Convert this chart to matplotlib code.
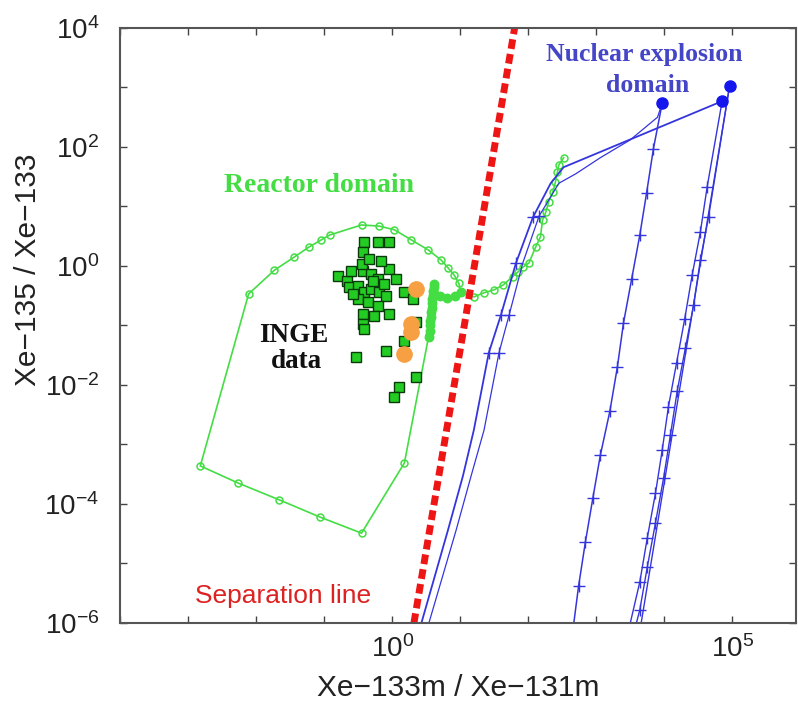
import numpy as np
import matplotlib.pyplot as plt

plt.rcParams['font.family'] = ['Liberation Sans', 'DejaVu Sans']
plt.rcParams['mathtext.fontset'] = 'custom'
plt.rcParams['mathtext.rm'] = 'Liberation Sans'

# every value below is a log10 exponent

# reactor domain outline (green, open circles)
reactor_x = [2.52, 2.45, 2.43, 2.40, 2.36, 2.30, 2.26, 2.21, 2.18, 2.11, 2.01, 1.92, 1.85, 1.77,
             1.63, 1.50, 1.35, 1.20, 1.01, 0.98, 0.91, 0.82, 0.72,
             0.53, 0.28, 0.03, -0.19, -0.45, -0.92, -1.04, -1.22, -1.44, -1.73, -2.11,
             -2.82, -2.26, -1.66, -1.06, -0.45, 0.18, 0.54]
reactor_y = [1.82, 1.70, 1.58, 1.41, 1.24, 1.08, 0.91, 0.77, 0.49, 0.32, 0.05, -0.02, -0.10, -0.18,
             -0.32, -0.40, -0.45, -0.52, -0.44, -0.29, -0.15, -0.03, 0.10,
             0.27, 0.44, 0.61, 0.67, 0.69, 0.52, 0.44, 0.32, 0.15, -0.07, -0.47,
             -3.36, -3.65, -3.93, -4.22, -4.49, -3.31, -1.16]

# dense stack of reactor circles next to the separation line
bar_x = [0.54, 0.55, 0.56, 0.56, 0.57, 0.57, 0.58, 0.58, 0.59, 0.60, 0.60, 0.61, 0.62, 0.70, 0.80, 0.92, 1.01]
bar_y = [-1.20, -1.10, -1.00, -0.92, -0.85, -0.78, -0.70, -0.63, -0.56, -0.49, -0.42, -0.36, -0.31,
         -0.50, -0.53, -0.50, -0.44]

# INGE data (green squares)
inge_x = [-0.41, -0.21, -0.04, -0.43, -0.79, -0.67, -0.60, -0.43, -0.31, -0.21, -0.04, 0.06, 0.18, 0.31,
          -0.63, -0.50, -0.41, -0.31, -0.19, -0.09, -0.50, -0.35, -0.21, -0.04, -0.43, -0.26, -0.43,
          -0.41, 0.35, 0.18, -0.09, -0.53, 0.35, 0.10, 0.03, -0.57, -0.28, -0.12, -0.45, -0.16, -0.34]
inge_y = [0.40, 0.40, 0.40, 0.24, -0.17, -0.25, -0.08, -0.08, -0.13, -0.22, -0.05, -0.22, -0.44, -0.55,
          -0.35, -0.34, -0.44, -0.39, -0.44, -0.50, -0.55, -0.61, -0.67, -0.81, -0.81, -0.84, -0.97,
          -1.06, -0.94, -1.26, -1.43, -1.53, -1.87, -2.03, -2.20, -0.47, -0.25, -0.30, 0.03, 0.08, 0.12]

# orange points
orange_x = [0.35, 0.28, 0.28, 0.18]
orange_y = [-0.39, -0.97, -1.11, -1.48]

# separation line
sep_x = [0.32, 1.80]
sep_y = [-6.0, 4.0]

# nuclear explosion curves (blue)
a1_x = [0.43, 0.82, 1.04, 1.20, 1.42, 1.60, 1.82, 2.07, 2.33, 2.52, 4.85]
a1_y = [-6.0, -4.44, -3.53, -2.76, -1.46, -0.82, 0.05, 0.82, 1.39, 1.66, 2.77]
a2_x = [0.54, 0.94, 1.16, 1.35, 1.57, 1.72, 1.92, 2.16, 2.45, 2.70, 3.06, 3.50, 3.90, 3.97]
a2_y = [-6.0, -4.44, -3.53, -2.76, -1.46, -0.82, 0.05, 0.84, 1.39, 1.55, 1.82, 2.12, 2.50, 2.74]
c_x = [3.97, 3.84, 3.74, 3.64, 3.52, 3.40, 3.31, 3.20, 3.06, 2.95, 2.84, 2.74, 2.67]
c_y = [2.74, 1.97, 1.23, 0.52, -0.22, -0.96, -1.70, -2.44, -3.18, -3.90, -4.64, -5.38, -6.0]
b1_x = [4.85, 4.63, 4.53, 4.41, 4.30, 4.18, 4.06, 3.97, 3.87, 3.75, 3.64, 3.50]
b1_y = [2.77, 1.33, 0.57, -0.15, -0.89, -1.63, -2.37, -3.09, -3.82, -4.57, -5.31, -6.0]
b2_x = [4.96, 4.65, 4.53, 4.43, 4.31, 4.19, 4.09, 3.99, 3.87, 3.75, 3.64, 3.59]
b2_y = [3.03, 0.82, 0.10, -0.66, -1.38, -2.10, -2.84, -3.56, -4.32, -5.06, -5.78, -6.0]
b3_x = [4.96, 3.66]
b3_y = [3.03, -6.0]
dots_x = [3.97, 4.85, 4.96]
dots_y = [2.74, 2.77, 3.03]

def p(v):
    return 10.0 ** np.array(v)

green = '#44dd44'
blue = '#3535dd'

fig = plt.figure(figsize=(7.98, 7.03), dpi=100)
ax = fig.add_axes([0.1504, 0.1138, 0.8466, 0.8464])
ax.set_xscale('log')
ax.set_yscale('log')

ax.plot(p(reactor_x), p(reactor_y), '-o', color=green, lw=1.2, ms=5, mfc='none', mec=green, mew=1.1)
ax.plot(p(bar_x), p(bar_y), '-o', color=green, lw=1.2, ms=6, mfc=green, mec=green, mew=1.1)
ax.plot(p(inge_x), p(inge_y), 's', ms=7, mfc='#22cc22', mec='#0a3a0a', mew=1.0, ls='none')
ax.plot(p(orange_x), p(orange_y), 'o', ms=11, color='#f7a043', ls='none')

ax.plot(p(a1_x), p(a1_y), '-+', color=blue, lw=1.3, ms=9, markevery=[4, 5, 6, 7])
ax.plot(p(a2_x), p(a2_y), '-+', color=blue, lw=0.9, ms=9, markevery=[4, 5, 7])
ax.plot(p(c_x), p(c_y), '-+', color=blue, lw=1.1, ms=9, markevery=slice(1, -1))
ax.plot(p(b1_x), p(b1_y), '-+', color=blue, lw=1.0, ms=9, markevery=slice(1, -1))
ax.plot(p(b2_x), p(b2_y), '-+', color=blue, lw=1.0, ms=9, markevery=slice(1, -1))
ax.plot(p(b3_x), p(b3_y), '-', color=blue, lw=1.0)
ax.plot(p(dots_x), p(dots_y), 'o', color='#1515ee', ms=8, ls='none')

ax.plot(p(sep_x), p(sep_y), color='#ee1515', lw=5, linestyle=(0, (1.4, 0.75)))

ax.set_xlim(1e-4, 10 ** 5.93)
ax.set_ylim(1e-6, 1e4)

ax.set_xticks([10.0 ** k for k in range(-4, 6)])
ax.set_xticklabels(['$\\mathregular{10^{%d}}$' % k if k in (0, 5) else '' for k in range(-4, 6)])
ax.set_yticks([10.0 ** k for k in range(-6, 5)])
ax.set_yticklabels(['$\\mathregular{10^{%d}}$' % k if k % 2 == 0 else '' for k in range(-6, 5)])
ax.minorticks_off()
ax.tick_params(direction='in', length=5, width=1, color='#444444', top=True, right=True,
               labelsize=20, labelcolor='#222222')
ax.tick_params(axis='y', pad=15)
ax.tick_params(axis='x', pad=9)
for s in ax.spines.values():
    s.set_color('#555555')
    s.set_linewidth(1.5)

ax.set_xlabel('Xe\u2212133m / Xe\u2212131m', fontsize=21.5, color='#222222')
ax.set_ylabel('Xe\u2212135 / Xe\u2212133', fontsize=21.5, color='#222222')
ax.xaxis.set_label_coords(0.5, -0.086)
ax.yaxis.set_label_coords(-0.116, 0.593)

serif = 'Liberation Serif'
ax.text(10 ** -1.07, 10 ** 1.36, 'Reactor domain', color=green, fontsize=20, fontweight='bold',
        family=serif, ha='center', va='center')
ax.text(10 ** 3.70, 10 ** 3.55, 'Nuclear explosion', color='#4545c8', fontsize=18.5, fontweight='bold',
        family=serif, ha='center', va='center')
ax.text(10 ** 3.75, 10 ** 3.04, 'domain', color='#4545c8', fontsize=18.5, fontweight='bold',
        family=serif, ha='center', va='center')
ax.text(10 ** -1.44, 10 ** -1.16, 'INGE', color='#111111', fontsize=19.5, fontweight='bold',
        family=serif, ha='center', va='center')
ax.text(10 ** -1.41, 10 ** -1.61, 'data', color='#111111', fontsize=19.5, fontweight='bold',
        family=serif, ha='center', va='center')
ax.text(10 ** -1.60, 10 ** -5.55, 'Separation line', color='#dd2222', fontsize=19,
        family='Liberation Sans', ha='center', va='center')

fig.savefig('out.png', dpi=100)
